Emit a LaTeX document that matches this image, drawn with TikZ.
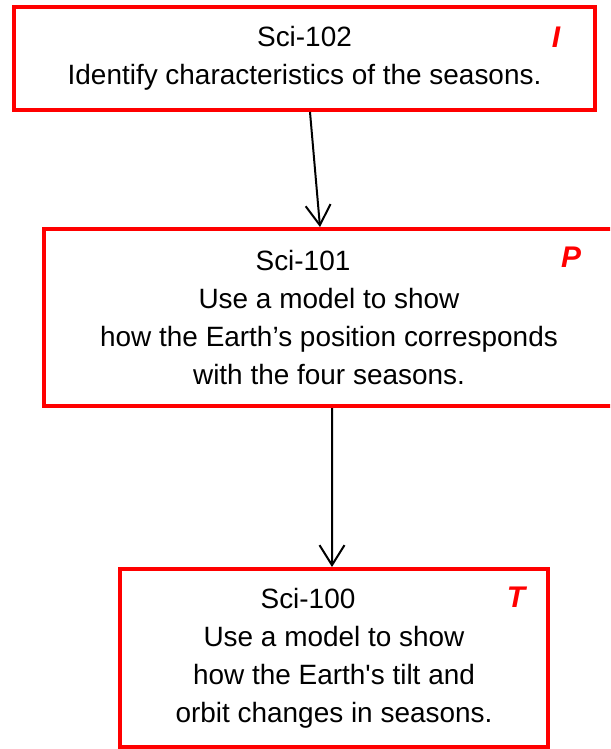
\documentclass[tikz,border=0pt]{standalone}
\usepackage{fontspec}
\newfontfamily\arial{Liberation Sans}
\usetikzlibrary{arrows.meta}
\definecolor{R}{RGB}{255, 0, 0}

\tikzset{
  scibox/.style={draw=R, line width=0.08cm, fill=white, align=center,
    inner sep=0pt, font=\arial\fontsize{15.9}{21.6}\selectfont},
  lvl/.style={text=R, font=\arial\fontsize{17}{20}\selectfont\bfseries\itshape},
  flecha/.style={line width=0.04cm, -{Straight Barb[length=0.4cm,width=0.5cm]}}
}

\begin{document}
\begin{tikzpicture}
  \useasboundingbox (0,0) rectangle (12.2,-14.98);
  \clip (0,0) rectangle (12.2,-14.98);

  %Caja superior
  \node[scibox, minimum width=11.62cm, minimum height=2.06cm] (sci102) at (6.09,-1.17)
    {Sci-102\\Identify characteristics of the seasons.};
  \node[lvl] (nivI) at (11.12,-0.74) {I};

  %Caja del medio
  \node[scibox, minimum width=11.40cm, minimum height=3.54cm] (sci101) at (6.58,-6.35)
    {Sci-101\hspace*{1.04cm}\\Use a model to show\\how the Earth’s position corresponds\\with the four seasons.};
  \node[lvl] (nivP) at (11.42,-5.14) {P};

  %Caja inferior
  \node[scibox, minimum width=8.56cm, minimum height=3.56cm] (sci100) at (6.68,-13.16)
    {Sci-100\hspace*{1.04cm}\\Use a model to show\\how the Earth's tilt and\\orbit changes in seasons.};
  \node[lvl] (nivT) at (10.32,-11.94) {T};

  %Flechas
  \draw[flecha] ([xshift=0.11cm]sci102.south) -- ([xshift=-0.18cm]sci101.north);
  \draw[flecha] ([xshift=0.06cm]sci101.south) -- ([xshift=-0.04cm]sci100.north);
\end{tikzpicture}
\end{document}
